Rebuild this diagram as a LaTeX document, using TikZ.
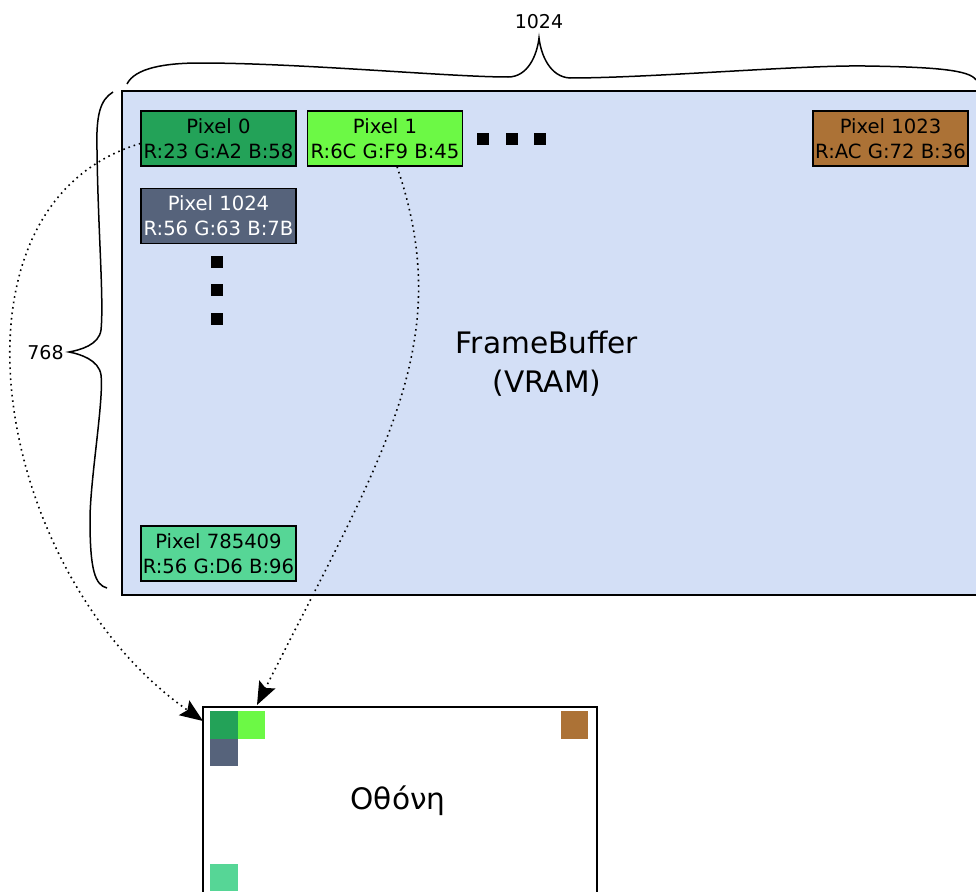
\documentclass[tikz,border=0pt]{standalone}
\usepackage{fontspec}
\setmainfont{DejaVu Sans}
\usetikzlibrary{arrows.meta}

\definecolor{vram}{HTML}{D3DFF6}
\definecolor{pxA}{HTML}{23A258}
\definecolor{pxB}{HTML}{6CF945}
\definecolor{pxC}{HTML}{AC7236}
\definecolor{pxD}{HTML}{56637B}
\definecolor{pxE}{HTML}{56D696}

\begin{document}
\begin{tikzpicture}[x=1pt,y=-1pt,
  pixbox/.style={draw=black, line width=1.3pt, minimum width=155pt, minimum height=55pt,
    inner sep=0pt, align=center, font=\fontsize{19.6}{25}\selectfont},
  dotsq/.style={fill=black, minimum size=12pt, inner sep=0pt},
  scrpx/.style={minimum size=27.5pt, inner sep=0pt, anchor=north west},
  bracepath/.style={line width=1.5pt},
  lbl/.style={font=\fontsize{19}{24}\selectfont, inner sep=0pt},
  bigtxt/.style={font=\fontsize{29.6}{39}\selectfont, align=center, inner sep=0pt},
  link/.style={line width=1.6pt, dash pattern=on 1.6pt off 3.9pt,
    -{Stealth[length=23pt,width=18pt,inset=4pt]}}
]
\useasboundingbox (0,0) rectangle (976,891);

% frame buffer memory area
\node[draw=black, line width=1.6pt, fill=vram, anchor=north west,
  minimum width=880pt, minimum height=504pt, inner sep=0pt] (vram) at (121,90) {};
\node[bigtxt] (vramtxt) at (547,364) {FrameBuffer\\(VRAM)};

% pixel cells
\node[pixbox, fill=pxA] (p0) at (218.5,138.5) {Pixel 0\\R:23 G:A2 B:58};
\node[pixbox, fill=pxB] (p1) at (385,138.5) {Pixel 1\\R:6C G:F9 B:45};
\node[pixbox, fill=pxC] (p1023) at (890.5,138.5) {Pixel 1023\\R:AC G:72 B:36};
\node[pixbox, fill=pxD, text=white] (p1024) at (218.5,216) {Pixel 1024\\R:56 G:63 B:7B};
\node[pixbox, fill=pxE] (plast) at (218.5,553.5) {Pixel 785409\\R:56 G:D6 B:96};

% ellipsis squares
\node[dotsq] (h1) at (483,138.5) {};
\node[dotsq] (h2) at (512,138.5) {};
\node[dotsq] (h3) at (540,138.5) {};
\node[dotsq] (v1) at (217,262) {};
\node[dotsq] (v2) at (217,290) {};
\node[dotsq] (v3) at (217,319) {};

% width brace
\draw[bracepath] (127,84) .. controls (135,68) and (165,63) .. (200,63)
  .. controls (300,63) and (450,77) .. (508,77)
  .. controls (528,77) and (537,55) .. (539,38)
  .. controls (541,55) and (550,77) .. (570,78)
  .. controls (650,78) and (800,65) .. (865,66)
  .. controls (935,67) and (970,70) .. (976,80);
\node[lbl] (wlbl) at (539,22) {1024};

% height brace
\draw[bracepath] (113,92) .. controls (100,100) and (96,115) .. (97,150)
  .. controls (98,230) and (104,300) .. (101,330)
  .. controls (99,345) and (80,350) .. (69,352)
  .. controls (80,354) and (99,360) .. (101,375)
  .. controls (104,400) and (90,480) .. (90,520)
  .. controls (90,570) and (95,585) .. (107,588);
\node[lbl] (hlbl) at (45.5,353) {768};

% screen
\node[draw=black, line width=1.6pt, fill=white, anchor=north west,
  minimum width=394pt, minimum height=220pt, inner sep=0pt] (scr) at (202,706) {};
\node[bigtxt] (scrtxt) at (398,801) {Οθόνη};
\node[scrpx, fill=pxA] (s0) at (210,711) {};
\node[scrpx, fill=pxB] (s1) at (237.5,711) {};
\node[scrpx, fill=pxD] (s1024) at (210,738.5) {};
\node[scrpx, fill=pxC] (s1023) at (560.5,711) {};
\node[scrpx, fill=pxE] (slast) at (210,863.5) {};

% mapping of memory cells to screen positions
\coordinate (t0) at (203,721);
\coordinate (t1) at (257,705);
\draw[link] ([yshift=-5pt]p0.west) .. controls (-69,206) and (-7,574) .. (t0);
\draw[link] ([xshift=12pt]p1.south) .. controls (458,345) and (382,456) .. (t1);
\end{tikzpicture}
\end{document}
